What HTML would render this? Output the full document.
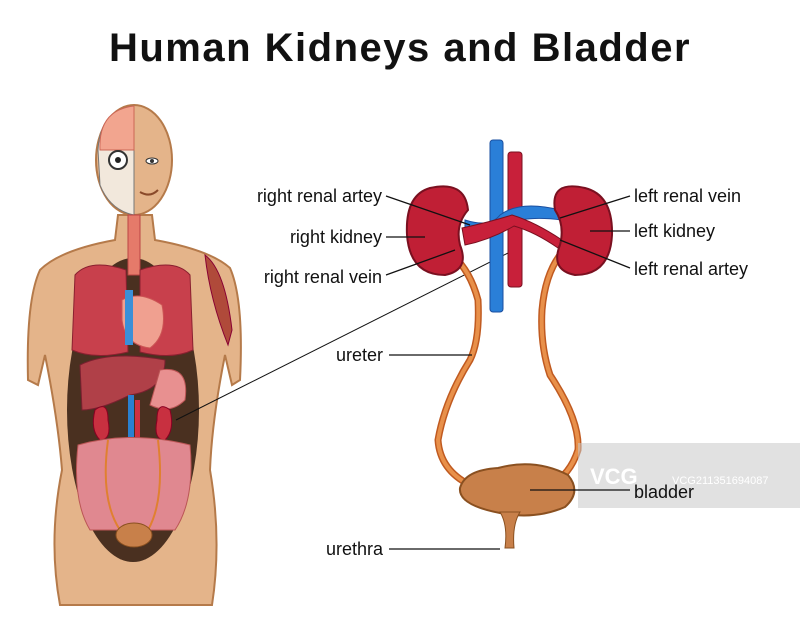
<!DOCTYPE html>
<html><head><meta charset="utf-8"><style>
html,body{margin:0;padding:0;background:#fff;}
svg{display:block}
text{font-family:"Liberation Sans",sans-serif;}
</style></head><body>
<svg width="800" height="618" viewBox="0 0 800 618" xmlns="http://www.w3.org/2000/svg">
<rect width="800" height="618" fill="#fff"/>
<text x="400" y="61" text-anchor="middle" font-size="40" font-weight="bold" fill="#111" letter-spacing="1.5">Human Kidneys and Bladder</text>

<!-- Body -->
<g>
<path d="M28,380 Q26,300 40,270 Q60,250 115,240 L118,215 L152,215 L155,240 Q210,250 230,268 Q244,300 240,380 L232,385 L225,355 Q212,420 210,470 Q222,540 212,605 L60,605 Q48,540 62,470 Q58,420 45,355 L38,385 Z" fill="#e4b48a" stroke="#b57a4a" stroke-width="2"/>
<ellipse cx="134" cy="160" rx="38" ry="55" fill="#e4b48a" stroke="#b57a4a" stroke-width="2"/>
<path d="M134,106 L134,215 Q110,210 100,185 L98,150 Q100,110 134,106Z" fill="#f2e8dc" stroke="#777" stroke-width="1"/>
<path d="M100,150 Q98,110 134,106 L134,150 Z" fill="#f2a58f" stroke="#c65" stroke-width="1"/>
<circle cx="118" cy="160" r="9" fill="#fff" stroke="#333" stroke-width="2"/><circle cx="118" cy="160" r="3" fill="#222"/>
<ellipse cx="152" cy="161" rx="6" ry="3" fill="#fff" stroke="#333"/><circle cx="152" cy="161" r="2" fill="#333"/>
<path d="M140,192 Q150,198 158,190" stroke="#8a4a2a" fill="none" stroke-width="2"/>
<path d="M205,255 Q225,270 232,330 L228,345 Q210,300 205,255Z" fill="#b04a3a" stroke="#803"/>
<ellipse cx="133" cy="410" rx="66" ry="152" fill="#4a3020"/>
<rect x="128" y="215" width="12" height="60" fill="#e57a6a" stroke="#b44"/>
<path d="M75,275 Q90,258 126,270 L128,352 Q95,360 72,350 Z" fill="#c8404c" stroke="#8a2030"/>
<path d="M190,275 Q175,258 140,270 L140,352 Q172,360 193,350 Z" fill="#c8404c" stroke="#8a2030"/>
<path d="M122,300 Q140,290 162,305 Q168,335 150,348 Q125,345 122,320Z" fill="#f0a090" stroke="#c55"/>
<rect x="125" y="290" width="8" height="55" fill="#3a8fd8"/>
<path d="M80,365 Q110,350 165,360 Q165,390 130,395 Q100,410 82,410 Z" fill="#b04048" stroke="#7a2030"/>
<path d="M160,370 Q190,365 185,400 Q170,415 150,405 Z" fill="#e89090" stroke="#b55"/>
<path d="M95,410 Q108,400 108,420 Q112,440 100,440 Q90,430 95,410Z" fill="#c83040" stroke="#802"/>
<path d="M170,410 Q157,400 157,420 Q153,440 165,440 Q175,430 170,410Z" fill="#c83040" stroke="#802"/>
<rect x="128" y="395" width="6" height="60" fill="#2a80d0"/><rect x="135" y="400" width="5" height="55" fill="#d03040"/>
<path d="M78,445 Q130,430 190,445 Q195,500 175,530 L90,530 Q72,500 78,445Z" fill="#e08890" stroke="#b55"/>
<path d="M108,440 Q100,500 120,530 M158,440 Q165,500 148,530" stroke="#e08030" stroke-width="2" fill="none"/>
<ellipse cx="134" cy="535" rx="18" ry="12" fill="#c8804a" stroke="#8a5020"/>
<line x1="176" y1="420" x2="512" y2="251" stroke="#111" stroke-width="1"/>
</g>

<!-- Right diagram -->
<path d="M452,255 Q470,270 478,300 Q480,340 470,360 Q445,400 438,440 Q440,470 470,485" stroke="#c05a20" stroke-width="7" fill="none"/>
<path d="M452,255 Q470,270 478,300 Q480,340 470,360 Q445,400 438,440 Q440,470 470,485" stroke="#e8904a" stroke-width="4" fill="none"/>
<path d="M560,255 Q545,275 542,310 Q540,345 550,375 Q580,420 578,450 Q570,475 550,485" stroke="#c05a20" stroke-width="7" fill="none"/>
<path d="M560,255 Q545,275 542,310 Q540,345 550,375 Q580,420 578,450 Q570,475 550,485" stroke="#e8904a" stroke-width="4" fill="none"/>
<rect x="490" y="140" width="13" height="172" rx="3" fill="#2a7fd8" stroke="#1a4fa0"/>
<rect x="508" y="152" width="14" height="135" rx="3" fill="#c8203a" stroke="#7a1020"/>
<path d="M465,220 Q490,228 500,215 Q520,200 560,210 L562,220 Q525,215 505,225 Q485,235 465,232Z" fill="#2a7fd8" stroke="#1a4fa0"/>
<path d="M462,228 Q490,222 512,215 Q535,222 562,240 L558,248 Q535,232 514,226 Q490,240 465,245Z" fill="#c8203a" stroke="#7a1020"/>
<path d="M430,188 Q465,180 468,210 Q455,225 460,245 Q470,270 445,275 Q410,275 407,235 Q405,195 430,188Z" fill="#c01f35" stroke="#7a1020" stroke-width="2"/>
<path d="M585,188 Q550,180 555,210 Q565,225 560,245 Q550,270 575,275 Q610,275 612,235 Q613,195 585,188Z" fill="#c01f35" stroke="#7a1020" stroke-width="2"/>
<path d="M498,468 Q535,458 568,475 Q582,492 565,507 Q535,520 500,513 Q458,505 460,488 Q465,470 498,468Z" fill="#c8804a" stroke="#8a5020" stroke-width="2"/>
<path d="M500,512 Q508,525 505,548 L514,548 Q512,525 520,512Z" fill="#c8804a" stroke="#8a5020"/>
<rect x="578" y="443" width="222" height="65" fill="#c8c8c8" opacity="0.55"/>
<text x="590" y="484" font-size="22" font-weight="bold" fill="#fff">VCG</text>
<text x="672" y="484" font-size="11" fill="#fff">VCG211351694087</text>

<g stroke="#111" stroke-width="1.3">
<line x1="386" y1="196" x2="470" y2="225"/>
<line x1="386" y1="237" x2="425" y2="237"/>
<line x1="386" y1="275" x2="455" y2="250"/>
<line x1="630" y1="196" x2="560" y2="218"/>
<line x1="630" y1="231" x2="590" y2="231"/>
<line x1="630" y1="268" x2="560" y2="240"/>
<line x1="389" y1="355" x2="472" y2="355"/>
<line x1="530" y1="490" x2="630" y2="490"/>
<line x1="389" y1="549" x2="500" y2="549"/>
</g>
<g font-size="18" fill="#111">
<text x="382" y="202" text-anchor="end">right renal artey</text>
<text x="382" y="243" text-anchor="end">right kidney</text>
<text x="382" y="283" text-anchor="end">right renal vein</text>
<text x="634" y="202">left renal vein</text>
<text x="634" y="237">left kidney</text>
<text x="634" y="275">left renal artey</text>
<text x="383" y="361" text-anchor="end">ureter</text>
<text x="634" y="498">bladder</text>
<text x="383" y="555" text-anchor="end">urethra</text>
</g>
</svg>
</body></html>
